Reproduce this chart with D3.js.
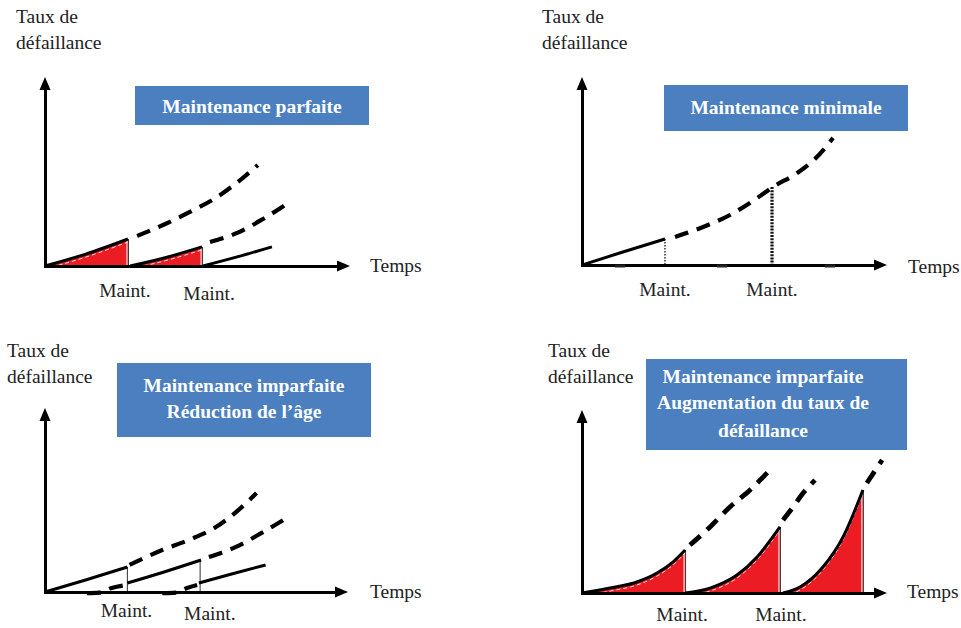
<!DOCTYPE html>
<html><head><meta charset="utf-8">
<script src="https://cdn.jsdelivr.net/npm/d3@7"></script>
<style>
body{margin:0;background:#fff;}
svg{display:block;}
</style></head><body>
<svg id="chart" width="961" height="628" font-family="'Liberation Serif', 'Times New Roman', 'DejaVu Serif', serif"></svg>
<script>
// ================= DATA (time units 0-100, failure-rate units 0-100) =================
const yTitleLines = ["Taux de", "défaillance"];
const xTitle = "Temps";
const maintLabel = "Maint.";

// Panel 1 : Maintenance parfaite
const perfectTitle = ["Maintenance parfaite"];
const perfectSolid = [
  [[0,0],[13.4,6.3],[27.2,14.3]],
  [[27.9,0],[39.7,4.5],[51.5,10.1]],
  [[51.8,0],[63.0,4.8],[74.4,10.1]]
];
const perfectDashed = [
  [[30.2,15.9],[38.7,21.7],[47.5,28.6],[56.4,36.5],[64.9,46.6],[69.8,53.4]],
  [[54.1,12.7],[63.0,17.5],[71.5,24.9],[80.3,33.9]]
];
const perfectShaded = [0, 1];
const perfectMaint = [27.2, 51.5];
const perfectMaintRate = [14.3, 10.1];
const perfectLabelT = [26.2, 53.8];

// Panel 2 : Maintenance minimale
const minimalTitle = ["Maintenance minimale"];
const minimalSolid = [
  [[0,0],[13.4,6.9],[27.2,13.8]]
];
const minimalDashed = [
  [[30.5,14.9],[39.7,20.2],[48.5,26.6],[57.4,35.6],[62.6,41.5],[70.5,48.9],[77.0,57.4],[82.3,67.6]]
];
const minimalMaint = [27.2, 62.3];
const minimalMaintRate = [13.8, 41.5];
const minimalLabelT = [27.2, 62.3];
const minimalAxisMarks = [12.5, 45.9, 81.3];

// Panel 3 : Maintenance imparfaite - Réduction de l'âge
const ageTitle = ["Maintenance imparfaite", "Réduction de l’âge"];
const ageSolid = [
  [[0,0],[13.4,6.5],[27.2,13.6]],
  [[27.2,4.9],[39.3,10.9],[51.5,17.4]],
  [[50.8,4.9],[61.6,9.8],[72.8,14.7]]
];
const ageDashed = [
  [[27.9,14.7],[38.7,22.8],[47.5,28.3],[56.4,35.3],[63.9,44.6],[69.8,53.8]],
  [[13.8,-0.6],[18.0,-0.3],[22.0,2.2],[26.9,3.8]],
  [[54.1,19.0],[63.0,24.5],[71.5,32.1],[80.3,40.8]],
  [[38.7,-0.6],[43.3,-0.3],[46.9,2.2],[50.2,3.8]]
];
const ageMaint = [27.2, 51.2];
const ageMaintRate = [13.6, 17.4];
const ageLabelT = [26.9, 54.4];

// Panel 4 : Maintenance imparfaite - Augmentation du taux de défaillance
const rateTitle = ["Maintenance imparfaite", "Augmentation du taux de", "défaillance"];
const rateSolid = [
  [[0,0],[9.2,2.7],[18.0,6.0],[24.6,10.9],[29.8,16.9],[33.8,23.5]],
  [[33.8,0],[42.0,2.7],[50.8,9.8],[57.4,19.7],[64.9,36.1]],
  [[65.9,0],[71.5,3.3],[79.0,14.2],[85.6,30.6],[92.1,56.3]]
];
const rateDashed = [
  [[35.4,26.2],[42.0,36.1],[48.5,47.0],[55.1,56.3],[61.6,67.2]],
  [[65.9,39.9],[69.2,47.0],[72.5,54.6],[76.4,61.7]],
  [[93.4,60.1],[98.4,72.7]]
];
const rateShaded = [0, 1, 2];
const rateMaint = [33.8, 64.9, 92.1];
const rateMaintRate = [23.5, 36.1, 56.3];
const rateLabelT = [32.8, 65.2];

// ================= LAYOUT =================
const COLORS = { box: "#4b7fbf", red: "#ec1c24", ink: "#000", text: "#222" };
const FS = 19.5;
const FONT = "'Liberation Serif', 'Times New Roman', 'DejaVu Serif', serif";

const panels = [
  { ox:45, oy:266, W:305, H:189,
    title: perfectTitle, box:{x:135,y:86,w:234,h:39}, titleX:252, titleY:[113],
    solid: perfectSolid, dashed: perfectDashed, shaded: perfectShaded,
    maint: perfectMaint, maintRate: perfectMaintRate, maintStyle:"shade",
    labelT: perfectLabelT, labelY:[297,300],
    yTitle:{x:16,y:[23,49]}, xTitleX:370, xTitleY:272, dashW:4.2 },
  { ox:582, oy:265, W:305, H:188,
    title: minimalTitle, box:{x:664,y:85,w:244,h:46}, titleX:786, titleY:[114],
    solid: minimalSolid, dashed: minimalDashed, shaded: [],
    maint: minimalMaint, maintRate: minimalMaintRate, maintStyle:"dotted",
    labelT: minimalLabelT, labelY:[296,296], axisMarks: minimalAxisMarks,
    yTitle:{x:542,y:[23,49]}, xTitleX:908, xTitleY:273, dashW:4.2 },
  { ox:45, oy:592, W:303, H:184,
    title: ageTitle, box:{x:117,y:363,w:254,h:74}, titleX:244, titleY:[392,418],
    solid: ageSolid, dashed: ageDashed, shaded: [],
    maint: ageMaint, maintRate: ageMaintRate, maintStyle:"thin",
    labelT: ageLabelT, labelY:[617,620],
    yTitle:{x:7,y:[357,383]}, xTitleX:370, xTitleY:598, dashW:4.2 },
  { ox:582, oy:593, W:305, H:183,
    title: rateTitle, box:{x:646,y:359,w:261,h:91}, titleX:763, titleY:[383,409,437],
    solid: rateSolid, dashed: rateDashed, shaded: rateShaded,
    maint: rateMaint, maintRate: rateMaintRate, maintStyle:"shade",
    labelT: rateLabelT, labelY:[621,621],
    yTitle:{x:548,y:[357,383]}, xTitleX:907, xTitleY:598, dashW:4.8 }
];

const svg = d3.select("#chart");

panels.forEach(p => {
  const g = svg.append("g");
  const x = d3.scaleLinear().domain([0,100]).range([p.ox, p.ox + p.W]);
  const y = d3.scaleLinear().domain([0,100]).range([p.oy, p.oy - p.H]);
  const line = d3.line().x(d => x(d[0])).y(d => y(d[1])).curve(d3.curveMonotoneX);
  const area = d3.area().x(d => x(d[0])).y0(y(0)).y1(d => y(d[1])).curve(d3.curveMonotoneX);

  // blue title box
  g.append("rect").attr("x", p.box.x).attr("y", p.box.y)
    .attr("width", p.box.w).attr("height", p.box.h).attr("fill", COLORS.box);
  p.title.forEach((t, i) => {
    g.append("text").attr("x", p.titleX).attr("y", p.titleY[i])
      .attr("text-anchor", "middle").attr("fill", "#fff")
      .attr("font-family", FONT)
      .attr("font-weight", "bold").attr("font-size", FS).text(t);
  });

  // shaded areas under the solid segments
  p.shaded.forEach(i => {
    const seg = p.solid[i];
    g.append("path").datum(seg).attr("d", area).attr("fill", COLORS.red);
    g.append("path").datum(seg).attr("d", line)
      .attr("transform", "translate(0,3)")
      .attr("fill", "none").attr("stroke", "#fff").attr("stroke-width", 1)
      .attr("stroke-dasharray", "4,3").attr("opacity", 0.85);
  });

  // maintenance vertical lines
  p.maint.forEach((t, i) => {
    const xx = x(t);
    if (p.maintStyle === "shade") {
      g.append("line").attr("x1", xx - 1).attr("x2", xx - 1)
        .attr("y1", y(p.maintRate[i])).attr("y2", y(0))
        .attr("stroke", "#fff").attr("stroke-width", 1);
      g.append("line").attr("x1", xx + 0.5).attr("x2", xx + 0.5)
        .attr("y1", y(p.maintRate[i])).attr("y2", y(0))
        .attr("stroke", "#333").attr("stroke-width", 1);
    } else if (p.maintStyle === "dotted") {
      g.append("line").attr("x1", xx).attr("x2", xx)
        .attr("y1", y(p.maintRate[i])).attr("y2", y(0))
        .attr("stroke", "#111").attr("stroke-width", i === 0 ? 1.3 : 3.2)
        .attr("stroke-dasharray", i === 0 ? "1.5,1.5" : "2,1.2");
    } else {
      g.append("line").attr("x1", xx).attr("x2", xx)
        .attr("y1", y(p.maintRate[i])).attr("y2", y(0))
        .attr("stroke", "#444").attr("stroke-width", 1.1);
    }
  });

  // axes (arrows)
  const xAxisScale = x.copy().range([p.ox, p.ox + p.W - 10]);
  const yAxisScale = y.copy().range([p.oy, p.oy - p.H + 10]);
  const xa = g.append("g").attr("transform", `translate(0,${p.oy})`)
    .call(d3.axisBottom(xAxisScale).tickValues([]).tickSizeOuter(0));
  const ya = g.append("g").attr("transform", `translate(${p.ox},0)`)
    .call(d3.axisLeft(yAxisScale).tickValues([]).tickSizeOuter(0));
  [xa, ya].forEach(a => a.select(".domain")
    .attr("stroke", COLORS.ink).attr("stroke-width", 3).attr("stroke-linecap", "square"));
  const xt = x(100), yt = y(100);
  g.append("path").attr("d", `M${xt},${p.oy}L${xt-13},${p.oy-5.5}L${xt-13},${p.oy+5.5}Z`).attr("fill", COLORS.ink);
  g.append("path").attr("d", `M${p.ox},${yt}L${p.ox-5.5},${yt+13}L${p.ox+5.5},${yt+13}Z`).attr("fill", COLORS.ink);

  if (p.axisMarks) {
    p.axisMarks.forEach(t => {
      g.append("line").attr("x1", x(t) - 5).attr("x2", x(t) + 5)
        .attr("y1", p.oy + 1).attr("y2", p.oy + 1)
        .attr("stroke", "#222").attr("stroke-width", 3);
    });
  }

  // dashed curves (behaviour without maintenance / virtual)
  p.dashed.forEach(seg => {
    g.append("path").datum(seg).attr("d", line)
      .attr("fill", "none").attr("stroke", COLORS.ink)
      .attr("stroke-width", p.dashW).attr("stroke-dasharray", "14,9");
  });
  // solid curves
  p.solid.forEach(seg => {
    g.append("path").datum(seg).attr("d", line)
      .attr("fill", "none").attr("stroke", COLORS.ink).attr("stroke-width", 3);
  });

  // texts
  yTitleLines.forEach((t, i) => {
    g.append("text").attr("x", p.yTitle.x).attr("y", p.yTitle.y[i])
      .attr("font-family", FONT)
      .attr("fill", COLORS.text).attr("font-size", FS).text(t);
  });
  g.append("text").attr("x", p.xTitleX).attr("y", p.xTitleY)
    .attr("font-family", FONT)
    .attr("fill", COLORS.text).attr("font-size", FS).text(xTitle);
  p.labelT.forEach((t, i) => {
    g.append("text").attr("x", x(t)).attr("y", p.labelY[i])
      .attr("text-anchor", "middle").attr("fill", COLORS.text)
      .attr("font-family", FONT)
      .attr("font-size", FS).text(maintLabel);
  });
});
</script>
</body></html>
